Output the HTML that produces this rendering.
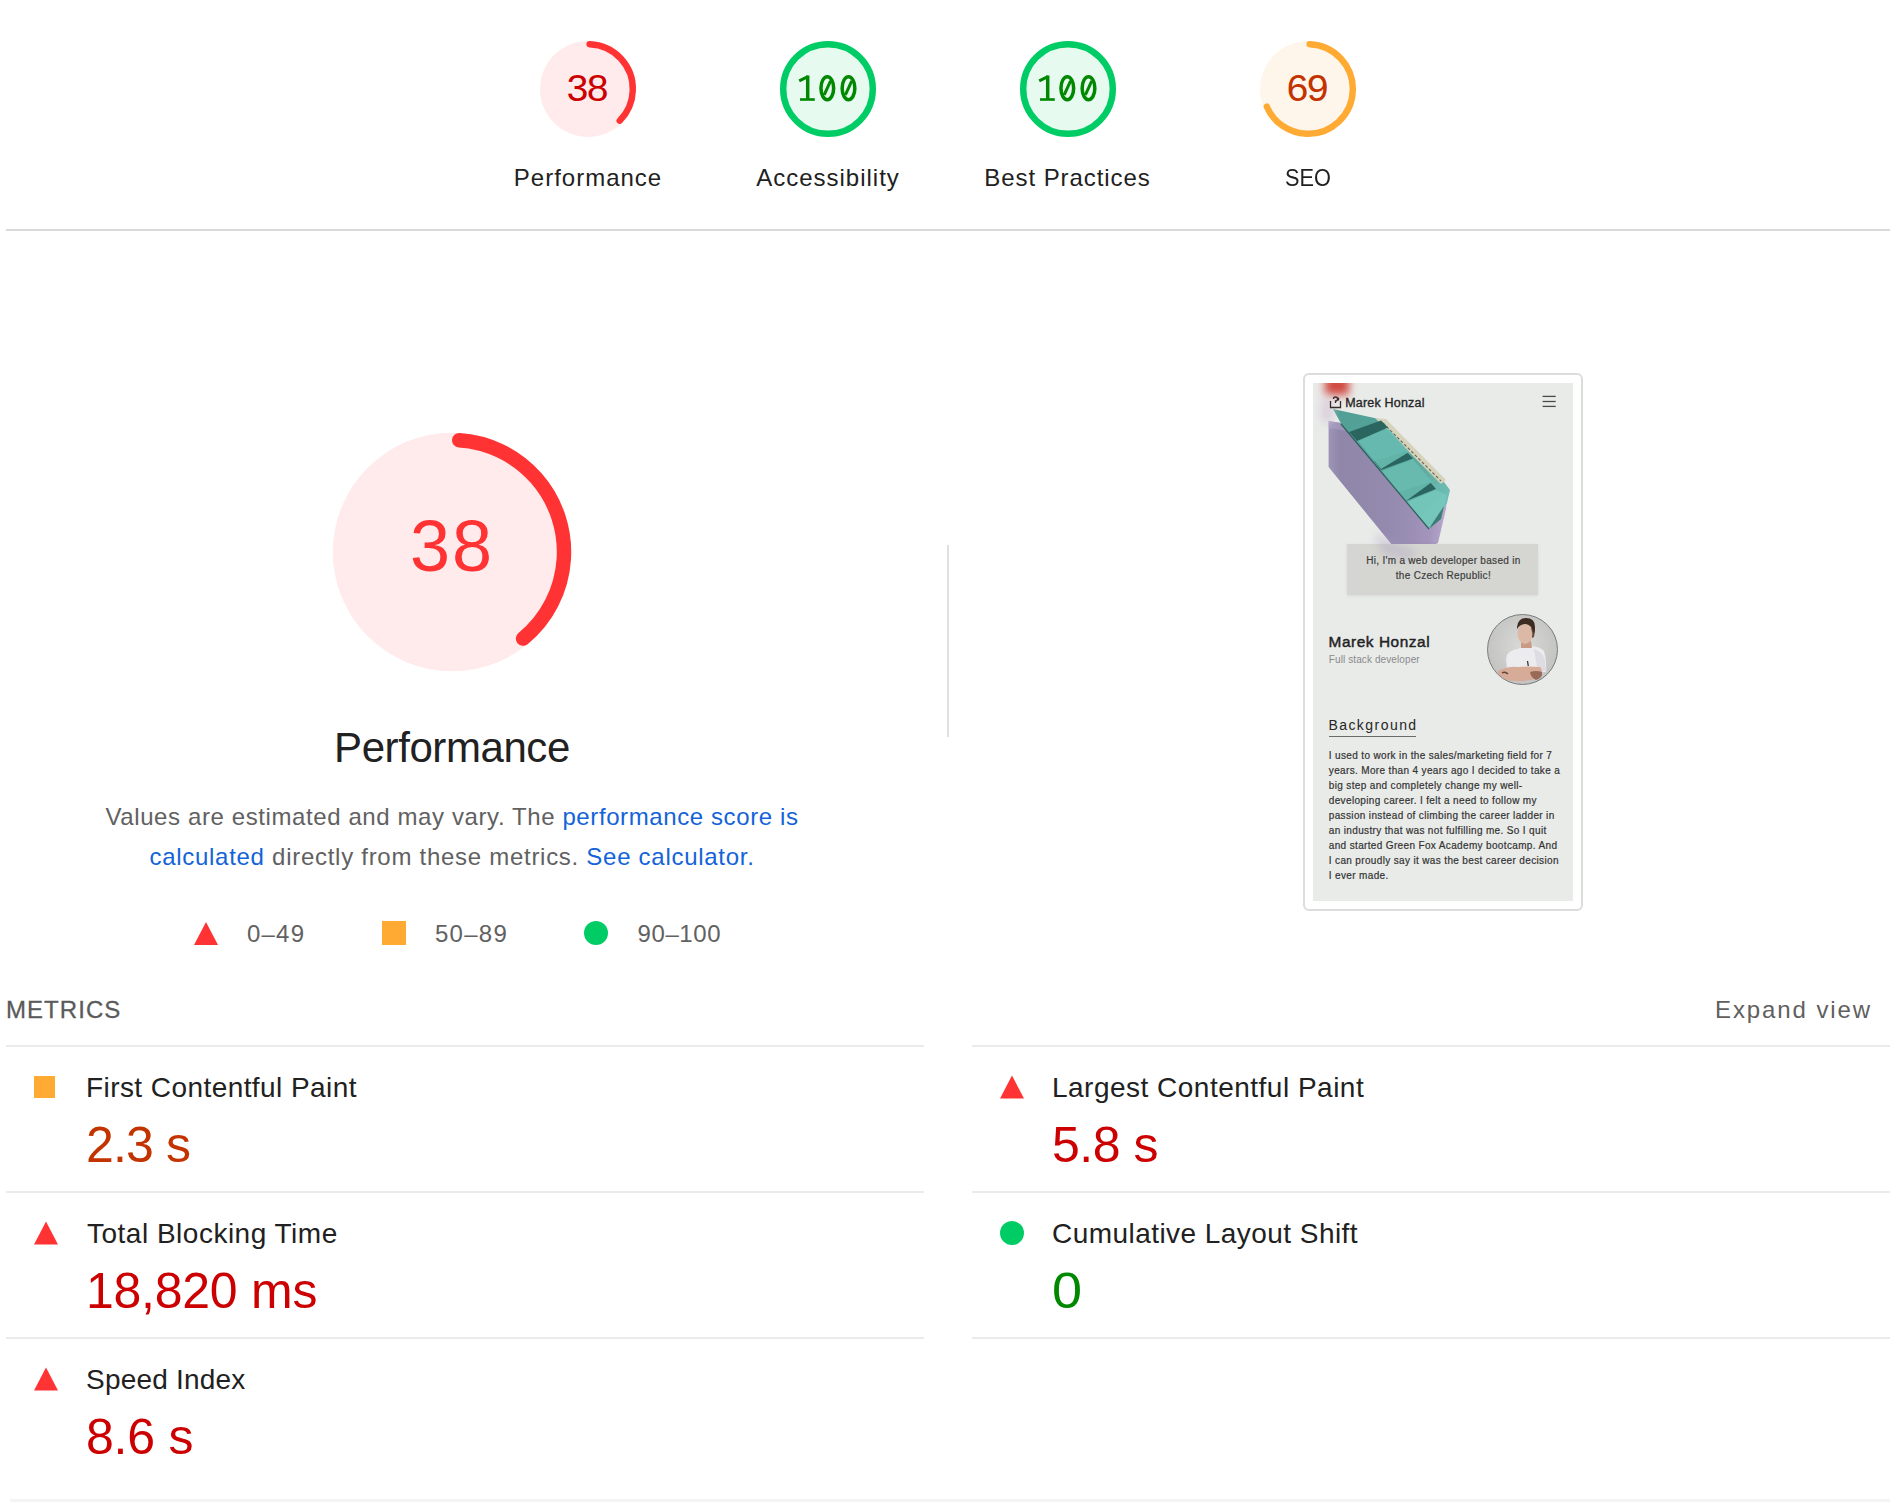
<!DOCTYPE html>
<html><head><meta charset="utf-8"><title>Lighthouse</title>
<style>
html,body{margin:0;padding:0;background:#fff;}
body{width:1898px;height:1502px;position:relative;overflow:hidden;font-family:"Liberation Sans",sans-serif;}
.t{position:absolute;white-space:nowrap;}
.r{position:absolute;display:block;}
a{color:#1463d8;text-decoration:none;}
</style></head><body>
<svg class="r" style="left:540.0px;top:41.0px;width:96px;height:96px;overflow:visible" viewBox="0 0 120 120"><circle cx="60" cy="60" r="60" fill="#ffebeb"/><circle cx="60" cy="60" r="56" fill="none" stroke="#ff3333" stroke-width="8" stroke-linecap="round" stroke-dasharray="129.706 351.858" transform="rotate(-87.954 60 60)"/></svg>
<div class="t" style="top:72.12px;font-size:39px;line-height:39px;color:#cc0000;letter-spacing:-3.2px;font-family:'Liberation Mono', monospace;left:86.00px;width:1000px;text-align:center;">38</div>
<div class="t" style="top:165.68px;font-size:24px;line-height:24px;color:#212121;letter-spacing:1.0px;left:88.00px;width:1000px;text-align:center;">Performance</div>
<svg class="r" style="left:780.0px;top:41.0px;width:96px;height:96px;overflow:visible" viewBox="0 0 120 120"><circle cx="60" cy="60" r="60" fill="#e6faf0"/><circle cx="60" cy="60" r="56" fill="none" stroke="#00cc66" stroke-width="8"/></svg>
<svg class="r" style="left:795px;top:70px;width:66px;height:36px" viewBox="0 0 66 36"><g fill="none" stroke="#008800" stroke-width="3.5"><path d="M12.7,5.5 V29.6" stroke-width="3.5"/><path d="M13,6.6 L4.2,10.9" stroke-width="3"/><path d="M5,29.5 H19.8" stroke-width="2.6"/><ellipse cx="32.3" cy="18.15" rx="6.35" ry="11.5"/><path d="M29.2,24.8 L35.6,10.8" stroke-width="3"/><ellipse cx="53.5" cy="18.15" rx="6.35" ry="11.5"/><path d="M50.4,24.8 L56.8,10.8" stroke-width="3"/></g></svg>
<div class="t" style="top:165.68px;font-size:24px;line-height:24px;color:#212121;letter-spacing:1.0px;left:328.00px;width:1000px;text-align:center;">Accessibility</div>
<svg class="r" style="left:1020.0px;top:41.0px;width:96px;height:96px;overflow:visible" viewBox="0 0 120 120"><circle cx="60" cy="60" r="60" fill="#e6faf0"/><circle cx="60" cy="60" r="56" fill="none" stroke="#00cc66" stroke-width="8"/></svg>
<svg class="r" style="left:1035px;top:70px;width:66px;height:36px" viewBox="0 0 66 36"><g fill="none" stroke="#008800" stroke-width="3.5"><path d="M12.7,5.5 V29.6" stroke-width="3.5"/><path d="M13,6.6 L4.2,10.9" stroke-width="3"/><path d="M5,29.5 H19.8" stroke-width="2.6"/><ellipse cx="32.3" cy="18.15" rx="6.35" ry="11.5"/><path d="M29.2,24.8 L35.6,10.8" stroke-width="3"/><ellipse cx="53.5" cy="18.15" rx="6.35" ry="11.5"/><path d="M50.4,24.8 L56.8,10.8" stroke-width="3"/></g></svg>
<div class="t" style="top:165.68px;font-size:24px;line-height:24px;color:#212121;letter-spacing:0.92px;left:567.50px;width:1000px;text-align:center;">Best Practices</div>
<svg class="r" style="left:1260.0px;top:41.0px;width:96px;height:96px;overflow:visible" viewBox="0 0 120 120"><circle cx="60" cy="60" r="60" fill="#fff6eb"/><circle cx="60" cy="60" r="56" fill="none" stroke="#ffaa33" stroke-width="8" stroke-linecap="round" stroke-dasharray="238.782 351.858" transform="rotate(-87.954 60 60)"/></svg>
<div class="t" style="top:72.12px;font-size:39px;line-height:39px;color:#c33300;letter-spacing:-3.2px;font-family:'Liberation Mono', monospace;left:806.00px;width:1000px;text-align:center;">69</div>
<div class="t" style="top:165.68px;font-size:24px;line-height:24px;color:#212121;left:808.00px;width:1000px;text-align:center;transform:scaleX(0.905);">SEO</div>
<div class="r" style="left:6px;top:229px;width:1884px;height:2px;background:#dadada;"></div>
<svg class="r" style="left:332.0px;top:431.70000000000005px;width:240px;height:240px;overflow:visible" viewBox="0 0 120 120"><circle cx="60" cy="60" r="59.6" fill="#ffebeb"/><circle cx="60" cy="60" r="56" fill="none" stroke="#ff3333" stroke-width="7.2" stroke-linecap="round" stroke-dasharray="133.706 351.858" transform="rotate(-86.317 60 60)"/></svg>
<div class="t" style="top:510.04px;font-size:72px;line-height:72px;color:#ff3333;letter-spacing:1.9px;left:-48.00px;width:1000px;text-align:center;">38</div>
<div class="t" style="top:727.44px;font-size:42px;line-height:42px;color:#212121;letter-spacing:-0.42px;left:-48.00px;width:1000px;text-align:center;">Performance</div>
<div class="t" style="top:805.38px;font-size:24px;line-height:24px;color:#616161;letter-spacing:0.6px;left:-48.00px;width:1000px;text-align:center;">Values are estimated and may vary. The <a>performance score is</a></div>
<div class="t" style="top:845.28px;font-size:24px;line-height:24px;color:#616161;letter-spacing:0.72px;left:-48.00px;width:1000px;text-align:center;"><a>calculated</a> directly from these metrics. <a>See calculator.</a></div>
<svg class="r" style="left:194px;top:921px;width:24px;height:24px" viewBox="0 0 24 24"><polygon points="12,1 24,24 0,24" fill="#ff3333"/></svg>
<div class="t" style="top:921.68px;font-size:24px;line-height:24px;color:#616161;letter-spacing:1.2px;left:247.00px;">0–49</div>
<div class="r" style="left:382px;top:921px;width:24px;height:24px;background:#ffaa33;"></div>
<div class="t" style="top:921.68px;font-size:24px;line-height:24px;color:#616161;letter-spacing:1.25px;left:435.00px;">50–89</div>
<div class="r" style="left:584px;top:921px;width:24px;height:24px;background:#00cc66;border-radius:50%;"></div>
<div class="t" style="top:921.68px;font-size:24px;line-height:24px;color:#616161;letter-spacing:0.6px;left:637.50px;">90–100</div>
<div class="r" style="left:947px;top:545px;width:2px;height:192px;background:#e0e0e0;"></div>
<div class="t" style="top:997.68px;font-size:24px;line-height:24px;color:#5a5a5a;letter-spacing:1.05px;left:6.00px;-webkit-text-stroke:0.3px #5a5a5a;">METRICS</div>
<div class="t" style="top:997.68px;font-size:24px;line-height:24px;color:#5f5f5f;letter-spacing:1.9px;left:872.00px;width:1000px;text-align:right;">Expand view</div>
<div class="r" style="left:6px;top:1045px;width:918px;height:2px;background:#ebebeb;"></div>
<div class="r" style="left:6px;top:1191px;width:918px;height:2px;background:#ebebeb;"></div>
<div class="r" style="left:6px;top:1337px;width:918px;height:2px;background:#ebebeb;"></div>
<div class="r" style="left:972px;top:1045px;width:918px;height:2px;background:#ebebeb;"></div>
<div class="r" style="left:972px;top:1191px;width:918px;height:2px;background:#ebebeb;"></div>
<div class="r" style="left:972px;top:1337px;width:918px;height:2px;background:#ebebeb;"></div>
<div class="r" style="left:10px;top:1499px;width:1880px;height:3px;background:#f4f4f4;"></div>
<div class="r" style="left:34px;top:1076px;width:21px;height:22px;background:#ffaa33;"></div>
<div class="t" style="top:1074.29px;font-size:28px;line-height:28px;color:#212121;letter-spacing:0.43px;left:86.00px;">First Contentful Paint</div>
<div class="t" style="top:1119.66px;font-size:50px;line-height:50px;color:#c33300;letter-spacing:-0.87px;left:86.00px;">2.3 s</div>
<svg class="r" style="left:34px;top:1221px;width:24px;height:24px" viewBox="0 0 24 24"><polygon points="12,0.5 24,23.5 0,23.5" fill="#ff3333"/></svg>
<div class="t" style="top:1220.29px;font-size:28px;line-height:28px;color:#212121;letter-spacing:0.5px;left:87.00px;">Total Blocking Time</div>
<div class="t" style="top:1265.66px;font-size:50px;line-height:50px;color:#cc0000;letter-spacing:-0.26px;left:86.00px;">18,820 ms</div>
<svg class="r" style="left:34px;top:1367px;width:24px;height:24px" viewBox="0 0 24 24"><polygon points="12,0.5 24,23.5 0,23.5" fill="#ff3333"/></svg>
<div class="t" style="top:1366.29px;font-size:28px;line-height:28px;color:#212121;letter-spacing:0.2px;left:86.00px;">Speed Index</div>
<div class="t" style="top:1411.66px;font-size:50px;line-height:50px;color:#cc0000;letter-spacing:-0.2px;left:86.00px;">8.6 s</div>
<svg class="r" style="left:1000px;top:1075px;width:24px;height:24px" viewBox="0 0 24 24"><polygon points="12,0.5 24,23.5 0,23.5" fill="#ff3333"/></svg>
<div class="t" style="top:1074.29px;font-size:28px;line-height:28px;color:#212121;letter-spacing:0.49px;left:1052.00px;">Largest Contentful Paint</div>
<div class="t" style="top:1119.66px;font-size:50px;line-height:50px;color:#cc0000;letter-spacing:-0.45px;left:1052.00px;">5.8 s</div>
<div class="r" style="left:1000px;top:1221px;width:24px;height:24px;background:#00cc66;border-radius:50%;"></div>
<div class="t" style="top:1220.29px;font-size:28px;line-height:28px;color:#212121;letter-spacing:0.45px;left:1052.00px;">Cumulative Layout Shift</div>
<div class="t" style="top:1265.66px;font-size:50px;line-height:50px;color:#008800;left:1052.00px;transform:scaleX(1.08);transform-origin:0 0;">0</div>
<div class="r" style="left:1303px;top:373px;width:276px;height:534px;border:2px solid #dcdcdc;border-radius:6px;background:#fff;"></div>
<div class="r" style="left:1313px;top:383px;width:260px;height:518px;background:#e9ebe9;overflow:hidden;">
<svg class="r" style="left:0;top:0;width:260px;height:518px" viewBox="0 0 260 518">
<defs>
<filter id="bl" x="-20%" y="-20%" width="140%" height="140%"><feGaussianBlur stdDeviation="0.6"/></filter>
<filter id="avb" x="-20%" y="-20%" width="140%" height="140%"><feGaussianBlur stdDeviation="0.7"/></filter>
<filter id="bl4" x="-100%" y="-100%" width="300%" height="300%"><feGaussianBlur stdDeviation="4"/></filter>
<linearGradient id="pg" x1="0" y1="0" x2="1" y2="0">
<stop offset="0" stop-color="#9d94b8"/><stop offset="0.1" stop-color="#8f86a8"/><stop offset="0.6" stop-color="#968bb0"/><stop offset="0.85" stop-color="#a394bb"/><stop offset="1" stop-color="#b8accd"/>
</linearGradient>
<linearGradient id="tg" x1="0" y1="0" x2="1" y2="1">
<stop offset="0" stop-color="#509d94"/><stop offset="0.6" stop-color="#5aaba1"/><stop offset="1" stop-color="#7cc8bf"/>
</linearGradient>
</defs>
<g filter="url(#bl)">
<polygon points="15.6,38 28,40 116,146 134,116 133,126 125,160 104,170 84,168 15.6,84" fill="url(#pg)"/>
<polygon points="15.6,38 28,40 34,48 15.6,45" fill="#a89ec3" opacity="0.6"/>
<polygon points="28,40.5 116,146 125,138 119,141" fill="#b9aed0"/>
<polygon points="20,26 66,36 131,99 137,107 134,120 116,146 28,40.5" fill="url(#tg)"/>
<polygon points="62,35 73,36 133,97 128,101" fill="#d6d3bd"/>
<polyline points="70,40 128,98" stroke="#6d6c5a" stroke-width="1.2" fill="none" stroke-dasharray="3 2"/>
<polyline points="66,42 124,101" stroke="#8d8b74" stroke-width="0.8" fill="none" stroke-dasharray="2 3"/>
<polygon points="36,49 68,37.5 75,44.5 44,58" fill="#2a655f"/>
<polygon points="61,78 93,68.5 100,75.5 68,87" fill="#2a655f"/>
<polygon points="86,109 117,99 123,106 93,118" fill="#2a655f"/>
<polygon points="45,58 75,45 96,69 68,86" fill="#68bbb0" opacity="0.9"/>
<polygon points="69,88 100,76 119,99 93,118" fill="#68bbb0" opacity="0.9"/>
<polygon points="94,119 123,107 134,112 131,124 116,145" fill="#74c6bb" opacity="0.9"/>
<polyline points="28,41 116,146" stroke="#2e5f5a" stroke-width="1.2" fill="none"/>
<polygon points="116,146 119,141 131,123 128,136" fill="#3c7d76"/>
</g>
<rect x="12" y="-8" width="24" height="20" fill="#d0483f" filter="url(#bl4)"/>
<ellipse cx="14" cy="28" rx="6" ry="14" fill="#d8c8d8" filter="url(#bl4)" opacity="0.8"/>
<!-- logo icon -->
<g fill="none" stroke="#3a2a2a" stroke-width="1.3">
<path d="M17.5,18 V24.5 H27.5 V18"/>
<path d="M20.5,16 a2,2 0 1 1 2,2 v2"/>
<path d="M25.5,14.5 v3"/>
</g>
<!-- hamburger -->
<g stroke="#4a4a4a" stroke-width="1.3">
<line x1="229.6" y1="13.4" x2="242.7" y2="13.4"/>
<line x1="229.6" y1="18.5" x2="242.7" y2="18.5"/>
<line x1="229.6" y1="23.4" x2="242.7" y2="23.4"/>
</g>
</svg>
<div class="r" style="left:34.4px;top:161px;width:190.4px;height:51.2px;background:#d5d6d1;box-shadow:0 1px 3px rgba(0,0,0,0.08);"></div>
<svg class="r" style="left:0;top:0;width:260px;height:518px" viewBox="0 0 260 518">
<polygon points="60,150 105,168 95,178 70,172" fill="#a89cc0" opacity="0.35" filter="url(#bl4)"/>
</svg>
<div class="t" style="left:32.2px;top:13.9px;font-size:12.5px;line-height:12.5px;color:#262626;letter-spacing:0.2px;-webkit-text-stroke:0.35px #262626;">Marek Honzal</div>
<div class="t" style="left:0;width:260px;text-align:center;top:170.4px;font-size:10px;line-height:15px;color:#3d3d3d;letter-spacing:0.3px;-webkit-text-stroke:0.2px #3d3d3d;left:0.4px;white-space:normal;">Hi, I'm a web developer based in<br>the Czech Republic!</div>
<div class="t" style="left:15.6px;top:251.3px;font-size:15.4px;line-height:15.4px;color:#232323;letter-spacing:0.55px;-webkit-text-stroke:0.45px #232323;">Marek Honzal</div>
<div class="t" style="left:15.8px;top:271.5px;font-size:10px;line-height:10px;color:#8a8a8a;letter-spacing:0.1px;">Full stack developer</div>
<div class="r" style="left:173.7px;top:231.2px;width:69px;height:69px;border:1px solid #7a7a7a;border-radius:50%;overflow:hidden;background:radial-gradient(circle at 50% 45%,#d9dad8,#c4c5c3 70%);">
<svg class="r" style="left:0;top:0;width:69px;height:69px;filter:blur(0.6px)" viewBox="0 0 69 69">
<g>
<path d="M30,34 Q33,32 38,31 L44,31 Q52,32 56,36 Q59,46 58,57 L20,58 Q17,46 19,40 Q22,35 30,34 Z" fill="#ececef"/>
<path d="M46,34 Q55,37 57,45 L58,56 L50,57 Z" fill="#dcdce2"/>
<path d="M33,26 L43,26 L44,33 L33,33 Z" fill="#c89b85"/>
<ellipse cx="37" cy="18.5" rx="7.4" ry="10.5" fill="#dcb9a6"/>
<path d="M43,13 Q45,18 44,23 L46,22 Q47,17 47,12 Z" fill="#6b4a3a"/>
<path d="M29,12 Q30,3 38,3 Q47,3 47,12 Q47,16 46,19 Q44,10 38,9 Q32,9 29,14 Z" fill="#3d2c22"/>
<path d="M10,56 Q20,51 30,52 Q40,51 52,52 Q56,56 52,62 Q40,67 28,66 Q16,66 10,62 Z" fill="#d6ab98"/>
<path d="M42,57 Q48,55 54,57 Q55,63 48,65 Q43,63 42,57 Z" fill="#9a6a58"/>
<path d="M14,58 q3,-2 6,1" stroke="#6a4535" stroke-width="1.5" fill="none"/>
<path d="M39.5,46 l0.8,5" stroke="#333" stroke-width="1.3"/>
</g>
</svg>
</div>
<div class="t" style="left:15.4px;top:334.9px;font-size:14px;line-height:14px;color:#262626;letter-spacing:1.45px;">Background</div>
<div class="r" style="left:15.8px;top:352.6px;width:87.4px;height:1.8px;background:#6a6a6a;"></div>
<div class="t" style="left:15.8px;top:364.7px;font-size:10px;line-height:15px;color:#333;letter-spacing:0.35px;-webkit-text-stroke:0.2px #333;white-space:normal;width:250px;">I used to work in the sales/marketing field for 7<br>years. More than 4 years ago I decided to take a<br>big step and completely change my well-<br>developing career. I felt a need to follow my<br>passion instead of climbing the career ladder in<br>an industry that was not fulfilling me. So I quit<br>and started Green Fox Academy bootcamp. And<br>I can proudly say it was the best career decision<br>I ever made.</div>
</div>

</body></html>
